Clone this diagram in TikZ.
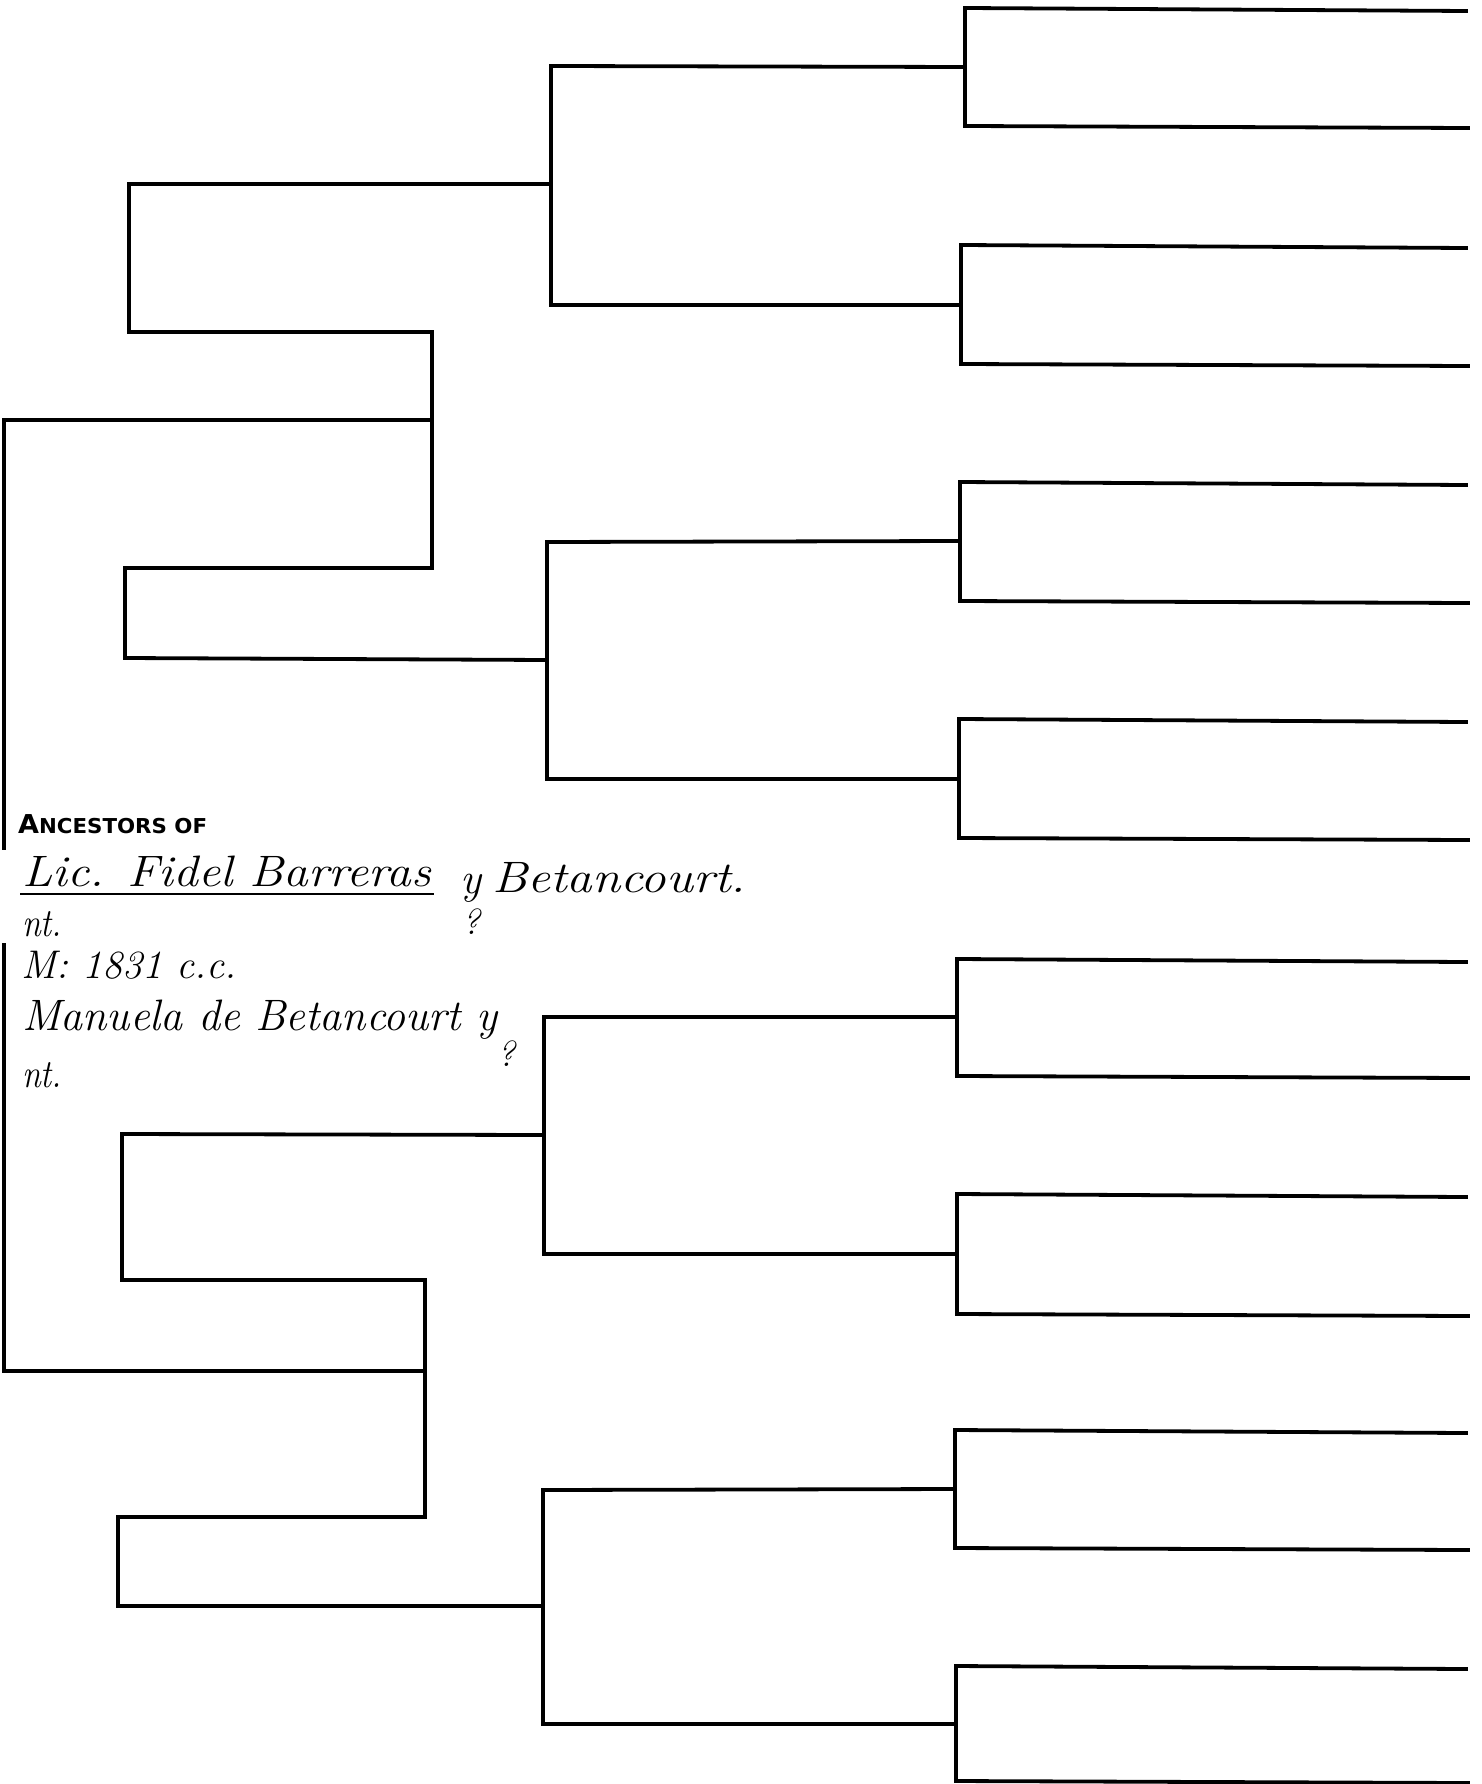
\documentclass[tikz,border=0pt]{standalone}
\usepackage{fontspec}
\newfontfamily\capsfont{DejaVu Sans}
\tikzset{
  chart/.style={line width=3.8pt, line join=miter, line cap=rect},
  hand/.style={font=\fontsize{44}{44}\selectfont\itshape, inner sep=0pt, anchor=base west},
  smallhand/.style={font=\fontsize{40}{40}\selectfont\itshape, inner sep=0pt, anchor=base west},
  qmark/.style={font=\fontsize{36}{36}\selectfont\itshape, inner sep=0pt, anchor=base},
}
\begin{document}
\begin{tikzpicture}[x=1pt,y=-1pt]
\useasboundingbox (0,0) rectangle (1481,1784);
% generation 4 brackets
\foreach \x/\t/\b in {965/8/126, 961/245/364, 960/482/601, 959/719/838,
                      957/959/1076, 957/1194/1314, 955/1430/1548, 956/1666/1781}{
  \draw[chart] (1466,\t+3) -- (\x,\t) -- (\x,\b) -- (1468,\b+2);
}
% generation 3 connectors
\draw[chart] (965,67)   -- (551,66)   -- (551,305)  -- (961,305);
\draw[chart] (960,541)  -- (547,542)  -- (547,779)  -- (959,779);
\draw[chart] (957,1017) -- (544,1017) -- (544,1254) -- (957,1254);
\draw[chart] (955,1489) -- (543,1490) -- (543,1606) -- (543,1724) -- (956,1724);
% generation 2 connectors
\draw[chart] (551,184) -- (129,184) -- (129,332) -- (432,332) -- (432,568)
             -- (125,568) -- (125,658) -- (547,660);
\draw[chart] (544,1135) -- (122,1134) -- (122,1280) -- (425,1280) -- (425,1517)
             -- (118,1517) -- (118,1606) -- (543,1606);
% subject lines
\draw[chart] (432,420) -- (4,420) -- (4,848);
\draw[chart] (4,945) -- (4,1371) -- (425,1371);
% titles
\node[inner sep=0pt, anchor=base west, xscale=1.04] (title) at (18,833)
  {\capsfont\bfseries\fontsize{26}{26}\selectfont A\fontsize{20.5}{20.5}\selectfont NCESTORS OF};
\node[hand, xscale=1.12] (name1) at (22,886) {Lic. Fidel Barreras};
\draw[line width=2.6pt] (20,894) -- (434,894);
\node[hand] (y1) at (460,893) {y};
\node[qmark] (q1) at (471,934) {?};
\node[hand, xscale=1.16] (sur1) at (492,892) {Betancourt.};
\node[smallhand, xscale=0.85] (nt1) at (22,936) {nt.};
\node[smallhand] (marr) at (21,978) {M: 1831 c.c.};
\node[hand] (name2) at (22,1030) {Manuela de Betancourt y};
\node[qmark] (q2) at (506,1066) {?};
\node[smallhand, xscale=0.85] (nt2) at (22,1087) {nt.};
\end{tikzpicture}
\end{document}
